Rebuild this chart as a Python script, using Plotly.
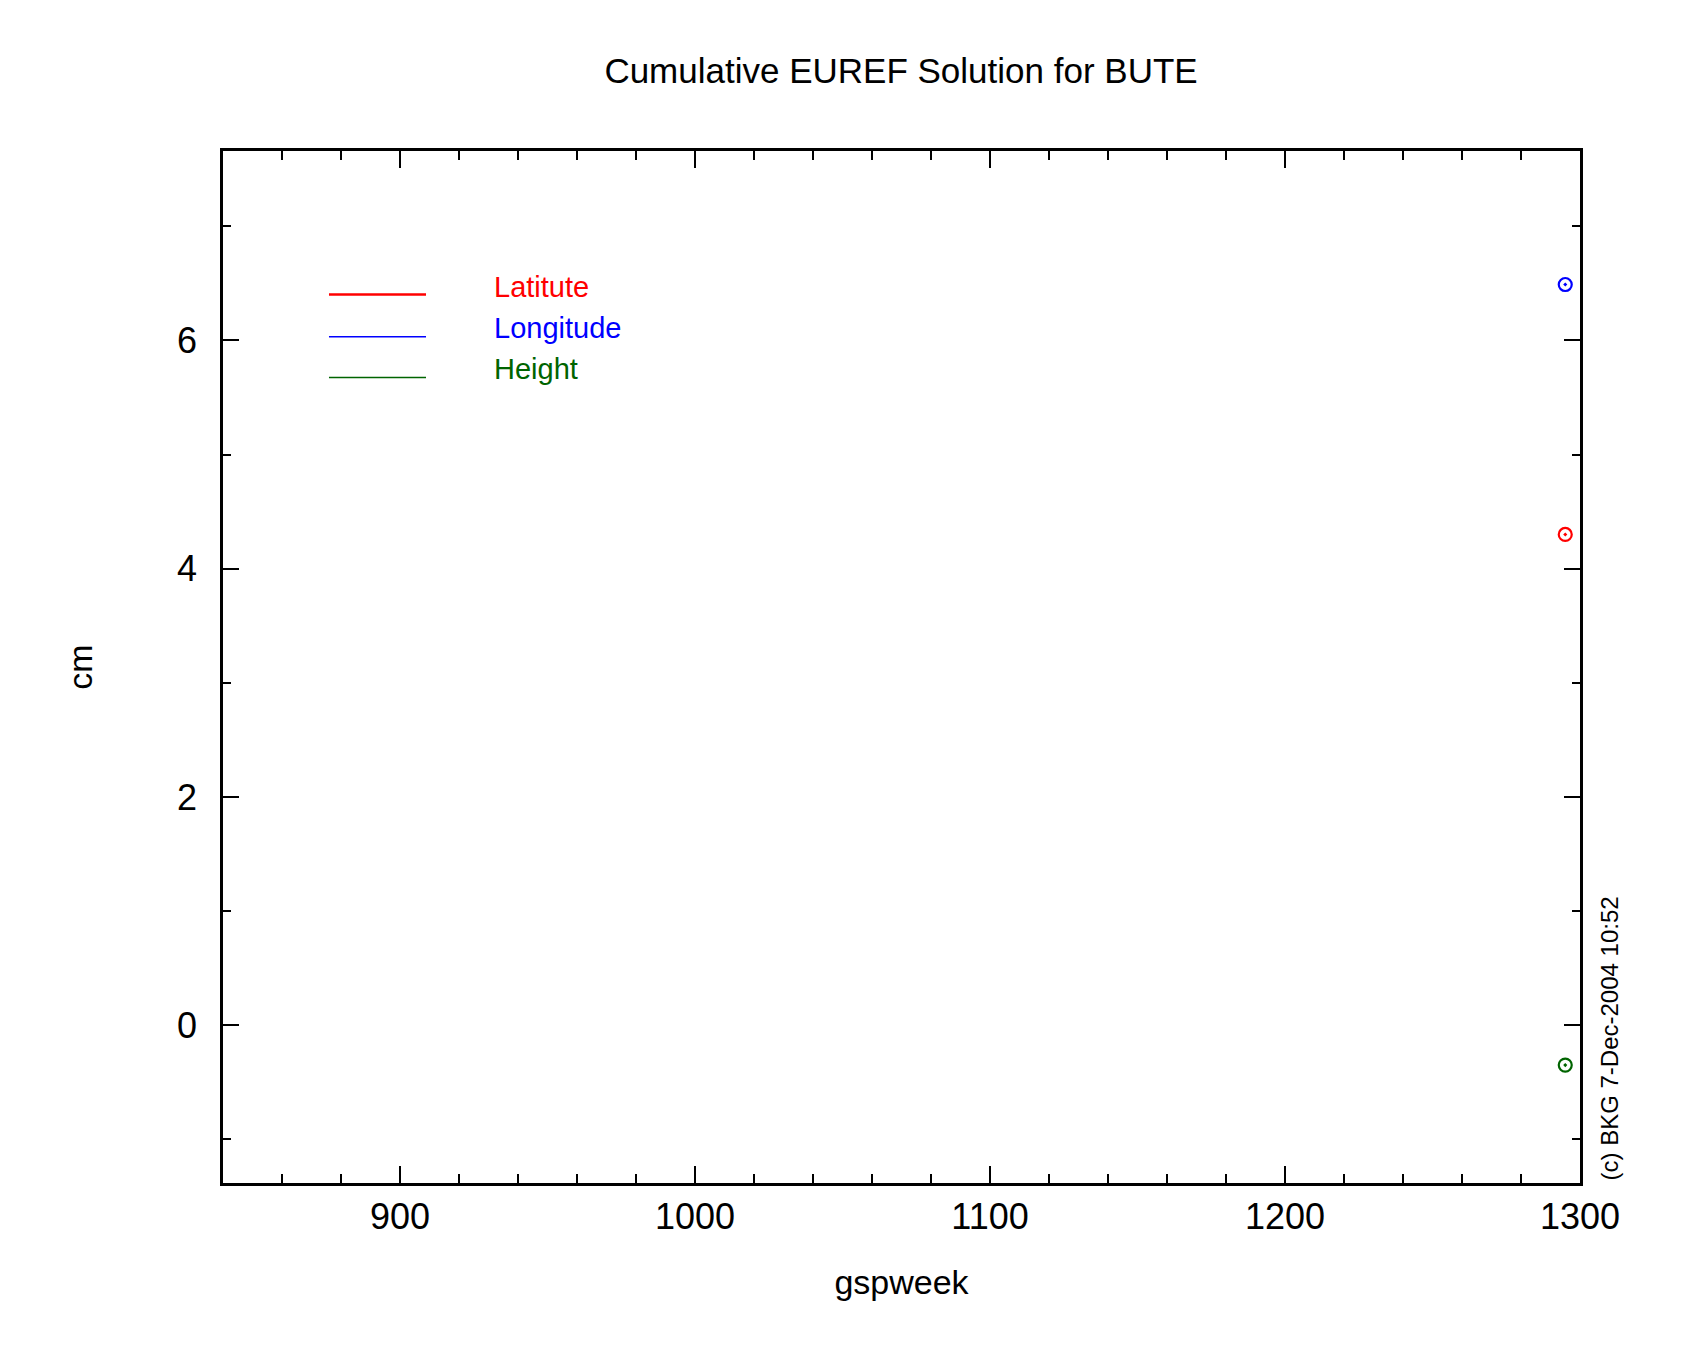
import plotly.graph_objects as go

# Data
series_names = ["Latitute", "Longitude", "Height"]
series_colors = ["#ff0000", "#0000ff", "#006400"]
gpsweek = [1295, 1295, 1295]
values_cm = [4.30, 6.49, -0.35]

x_range = [840, 1300]
y_range = [-1.383, 7.66]
x_ticks = [900, 1000, 1100, 1200, 1300]
y_ticks = [0, 2, 4, 6]

FONT = "Liberation Sans"

fig = go.Figure()
for name, col, xv, yv in zip(series_names, series_colors, gpsweek, values_cm):
    fig.add_trace(go.Scatter(
        x=[xv], y=[yv], mode="markers", name=name, showlegend=False,
        marker=dict(symbol="circle-open-dot", size=13, color=col,
                    line=dict(color=col, width=2.2)),
    ))

axis_common = dict(
    showgrid=False, zeroline=False, showline=True, linecolor="black",
    linewidth=2.5, mirror="ticks", ticks="inside", tickcolor="black",
    tickwidth=2, tickfont=dict(family=FONT, size=36, color="black"),
)

fig.update_xaxes(
    range=x_range, tickvals=x_ticks, ticklen=17,
    minor=dict(dtick=20, tick0=0, ticklen=9, ticks="inside", tickcolor="black", tickwidth=2),
    ticklabelstandoff=0,
    title=dict(text="gspweek", font=dict(family=FONT, size=34, color="black"), standoff=35),
    **axis_common,
)
fig.update_yaxes(
    range=y_range, tickvals=y_ticks, ticklen=16,
    minor=dict(dtick=1, tick0=0, ticklen=8, ticks="inside", tickcolor="black", tickwidth=2),
    ticklabelstandoff=16,
    title=dict(text="cm", font=dict(family=FONT, size=34, color="black"), standoff=75),
    **axis_common,
)

# Legend drawn as lines + text inside the plot
leg_line_y = [0.8609, 0.8199, 0.7805]
leg_text_y = [0.8678, 0.8286, 0.7885]
leg_widths = [2.5, 1.5, 1.5]
for name, col, ly, ty, lw in zip(series_names, series_colors, leg_line_y, leg_text_y, leg_widths):
    fig.add_shape(type="line", xref="paper", yref="paper", x0=0.0781, x1=0.1496,
                  y0=ly, y1=ly, line=dict(color=col, width=lw))
    fig.add_annotation(xref="paper", yref="paper", x=0.1982, y=ty, text=name,
                       showarrow=False, xanchor="left", yanchor="middle",
                       font=dict(family=FONT, size=29, color=col))

fig.add_annotation(xref="paper", yref="paper", x=1.0221, y=0.140,
                   text="(c) BKG 7-Dec-2004 10:52", textangle=-90, showarrow=False,
                   xanchor="center", yanchor="middle",
                   font=dict(family=FONT, size=24, color="black"))

fig.update_layout(
    width=1700, height=1360,
    margin=dict(l=215, r=128, t=143, b=185),
    paper_bgcolor="white", plot_bgcolor="white",
    title=dict(text="Cumulative EUREF Solution for BUTE", x=0.5253, xanchor="center",
               y=1 - 63 / 1360, yanchor="middle",
               font=dict(family=FONT, size=35, color="black")),
)

fig.write_html("out.html")
